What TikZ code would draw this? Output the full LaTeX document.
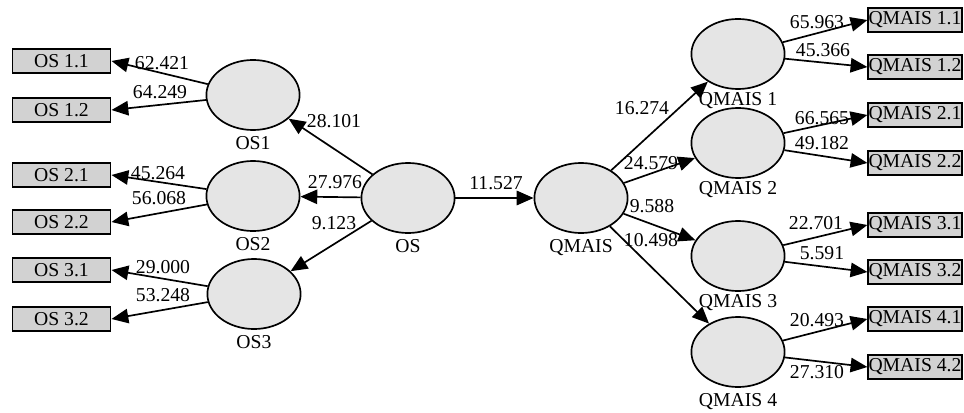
\documentclass[tikz,border=0pt]{standalone}
\usepackage{fontspec}
\setmainfont{Liberation Serif}
\usetikzlibrary{shapes,arrows.meta,positioning}

\begin{document}
\begin{tikzpicture}[->,>={Triangle[length=0.42cm,width=0.36cm]},x=0.025cm,y=-0.025cm,line width=1.2pt,font=\fontsize{14}{16}\selectfont]
\tikzstyle{lv}=[ellipse,draw=black,fill=gray!20,minimum width=2.33cm,minimum height=1.75cm,inner sep=0pt]
\tikzstyle{mv}=[rectangle,draw=black,line width=1.4pt,fill=gray!35,minimum height=0.6cm,inner sep=0pt]
\tikzstyle{lmv}=[mv,minimum width=2.45cm]
\tikzstyle{rmv}=[mv,minimum width=2.33cm]
\useasboundingbox (0,0) rectangle (964,413);

% latent variables
\node[lv] at (408,198) (os){};
\node[lv] at (253,95) (os1){};
\node[lv] at (253,196) (os2){};
\node[lv] at (254,294) (os3){};
\node[lv] at (581,198) (qm){};
\node[lv] at (738,54) (qm1){};
\node[lv] at (738,143) (qm2){};
\node[lv] at (738,256) (qm3){};
\node[lv] at (738,352) (qm4){};
\node[below=0pt of os] (os-t){OS};
\node[below=0pt of os1] (os1-t){OS1};
\node[below=0pt of os2] (os2-t){OS2};
\node[below=0pt of os3] (os3-t){OS3};
\node[below=0pt of qm] (qm-t){QMAIS};
\node[below=-2pt of qm1] (qm1-t){QMAIS 1};
\node[below=-2pt of qm2] (qm2-t){QMAIS 2};
\node[below=-2pt of qm3] (qm3-t){QMAIS 3};
\node[below=0pt of qm4] (qm4-t){QMAIS 4};

% indicators
\node[lmv] at (61.5,61) (os11){OS 1.1};
\node[lmv] at (61.5,110) (os12){OS 1.2};
\node[lmv] at (61.5,175) (os21){OS 2.1};
\node[lmv] at (61.5,222) (os22){OS 2.2};
\node[lmv] at (61.5,270) (os31){OS 3.1};
\node[lmv] at (61.5,319) (os32){OS 3.2};
\node[rmv] at (915,20) (qm11){QMAIS 1.1};
\node[rmv] at (915,67) (qm12){QMAIS 1.2};
\node[rmv] at (915,115) (qm21){QMAIS 2.1};
\node[rmv] at (915,163) (qm22){QMAIS 2.2};
\node[rmv] at (915,225) (qm31){QMAIS 3.1};
\node[rmv] at (915,272) (qm32){QMAIS 3.2};
\node[rmv] at (915,319) (qm41){QMAIS 4.1};
\node[rmv] at (915,367) (qm42){QMAIS 4.2};

% values
\node at (162,63) (v-os11){62.421};
\node at (160,92) (v-os12){64.249};
\node at (158,173) (v-os21){45.264};
\node at (159,198) (v-os22){56.068};
\node at (163,267) (v-os31){29.000};
\node at (163,295) (v-os32){53.248};
\node at (334,121) (v-os1){28.101};
\node at (335,182) (v-os2){27.976};
\node at (334,223) (v-os3){9.123};
\node at (496,183) (v-qm){11.527};
\node at (642,108) (v-qm1){16.274};
\node at (651,163) (v-qm2){24.579};
\node at (652,206) (v-qm3){9.588};
\node at (651,240) (v-qm4){10.498};
\node at (817,22) (v-qm11){65.963};
\node at (823,50) (v-qm12){45.366};
\node at (822,118) (v-qm21){66.565};
\node at (822,143) (v-qm22){49.182};
\node at (816,223) (v-qm31){22.701};
\node at (822,253) (v-qm32){5.591};
\node at (817,320) (v-qm41){20.493};
\node at (817,372) (v-qm42){27.310};

%paths
\path (os) edge (os1) edge (os2) edge (os3) edge (qm);
\path (qm) edge (qm1) edge (qm2) edge (qm3) edge (qm4);
\path (os1) edge (os11.east) edge (os12.east);
\path (os2) edge (os21.east) edge (os22.east);
\path (os3) edge (os31.east) edge (os32.east);
\path (qm1) edge (qm11.west) edge (qm12.west);
\path (qm2) edge (qm21.west) edge (qm22.west);
\path (qm3) edge (qm31.west) edge (qm32.west);
\path (qm4) edge (qm41.west) edge (qm42.west);
\end{tikzpicture}
\end{document}
